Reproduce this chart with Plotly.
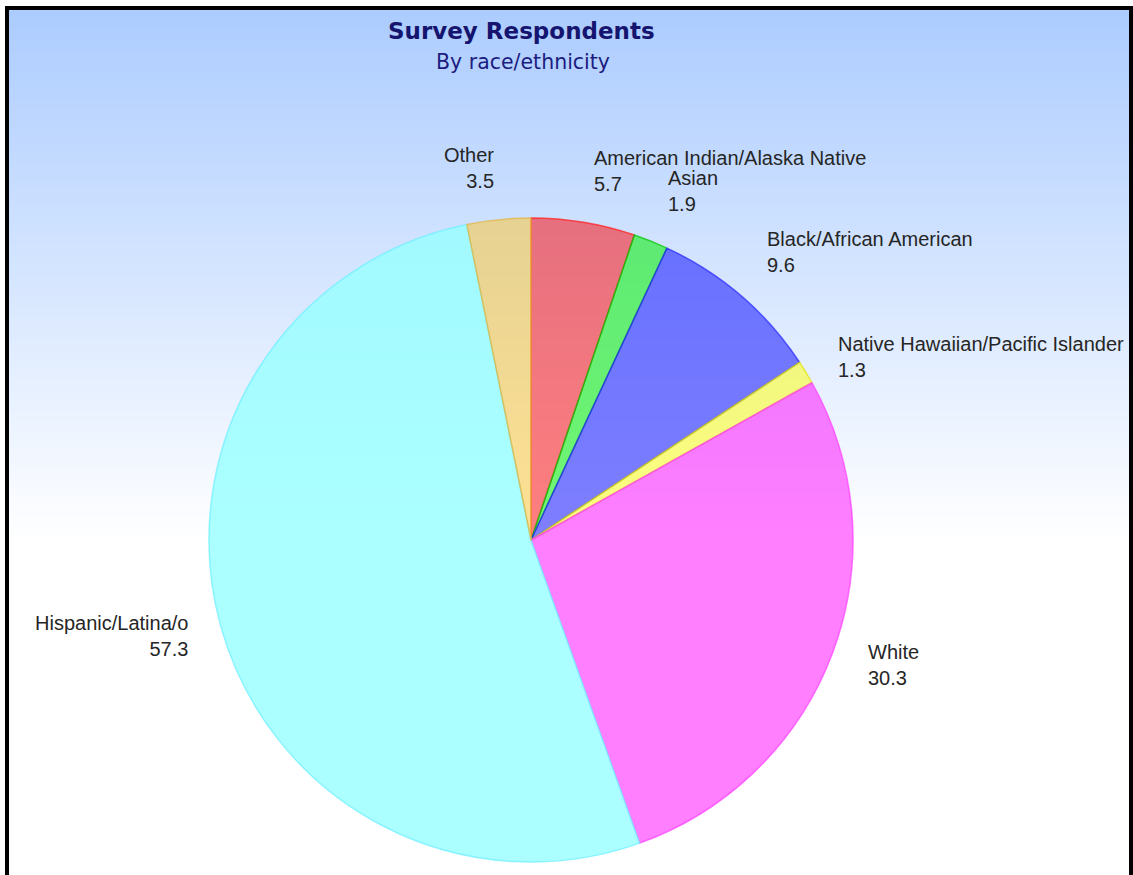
import math
import plotly.graph_objects as go

# ---------------- data ----------------
categories = [
    "American Indian/Alaska Native",
    "Asian",
    "Black/African American",
    "Native Hawaiian/Pacific Islander",
    "White",
    "Hispanic/Latina/o",
    "Other",
]
values = [5.7, 1.9, 9.6, 1.3, 30.3, 57.3, 3.5]
title_text = "Survey Respondents"
subtitle_text = "By race/ethnicity"

# ---------------- style ----------------
slice_colors = [
    "rgba(255,0,0,0.5)",
    "rgba(0,240,0,0.55)",
    "rgba(0,0,255,0.5)",
    "rgba(255,255,0,0.5)",
    "rgba(255,0,255,0.5)",
    "rgba(150,255,255,0.8)",
    "rgba(255,195,40,0.5)",
]
edge_colors = [
    "rgba(255,40,40,0.8)",
    "rgba(0,200,0,0.7)",
    "rgba(40,40,255,0.7)",
    "rgba(230,230,0,0.7)",
    "rgba(255,60,255,0.7)",
    "rgba(120,240,255,0.8)",
    "rgba(230,180,60,0.7)",
]

W, H = 1133, 875
# pie bounding square on the page: x 209..853, y 218..862
ML, MT = 209, 218
MR = W - 853
MB = H - 862
PW = W - ML - MR
PH = H - MT - MB


def px2x(px):  # page px -> paper
    return (px - ML) / PW


def py2y(py):
    return (H - MB - py) / PH


fig = go.Figure()
fig.add_trace(
    go.Pie(
        labels=categories,
        values=values,
        sort=False,
        direction="clockwise",
        rotation=0,
        textinfo="none",
        hoverinfo="label+value",
        marker=dict(colors=slice_colors, line=dict(color=edge_colors, width=1.5)),
        showlegend=False,
        domain=dict(x=[0, 1], y=[0, 1]),
    )
)

# ---------------- background gradient (shapes) ----------------
shapes = []
top_c = (172, 204, 255)
y0g, y1g = 10, 540
step = 3
for yy in range(y0g, y1g, step):
    t = (yy - y0g) / (y1g - y0g)
    c = tuple(round(top_c[i] + (255 - top_c[i]) * t) for i in range(3))
    shapes.append(
        dict(
            type="rect", xref="paper", yref="paper", layer="below",
            x0=px2x(9), x1=px2x(1129), y0=py2y(yy + step + 0.5), y1=py2y(yy),
            fillcolor="rgb(%d,%d,%d)" % c, line=dict(width=0),
        )
    )
# frame
for (x0, x1, y0, y1) in [(5, 9, 6, 875), (5, 1133, 6, 10), (1129, 1133, 6, 875)]:
    shapes.append(
        dict(
            type="rect", xref="paper", yref="paper", layer="above",
            x0=px2x(x0), x1=px2x(x1), y0=py2y(y1), y1=py2y(y0),
            fillcolor="black", line=dict(width=0),
        )
    )

# ---------------- labels ----------------
annotations = []
total = sum(values)
cum = 0.0
for cat, v in zip(categories, values):
    mid = cum + v / 2.0
    cum += v
    th = 2 * math.pi * mid / total
    s, c = math.sin(th), math.cos(th)
    x = 0.5 + 0.55 * s
    y = 0.5 + 0.55 * c
    right = s >= 0
    yshift = 20 if c > 0.6 else (-20 if c < -0.6 else -1)
    annotations.append(
        dict(
            x=x, y=y, xref="paper", yref="paper",
            text="%s<br>%s" % (cat, v),
            showarrow=False,
            xanchor="left" if right else "right",
            yanchor="middle",
            align="left" if right else "right",
            xshift=3 if right else 0,
            yshift=yshift,
            font=dict(family="Liberation Sans, Arial", size=20, color="#262626"),
        )
    )

annotations.append(
    dict(
        x=px2x(521), y=py2y(31), xref="paper", yref="paper",
        text="<b>%s</b>" % title_text, showarrow=False,
        xanchor="center", yanchor="middle",
        font=dict(family="DejaVu Sans", size=23, color="#151570"),
    )
)
annotations.append(
    dict(
        x=px2x(523), y=py2y(62), xref="paper", yref="paper",
        text=subtitle_text, showarrow=False,
        xanchor="center", yanchor="middle",
        font=dict(family="DejaVu Sans", size=20.5, color="#1c1c80"),
    )
)

fig.update_layout(
    width=W, height=H,
    margin=dict(l=ML, r=MR, t=MT, b=MB, pad=0),
    paper_bgcolor="white",
    plot_bgcolor="white",
    showlegend=False,
    shapes=shapes,
    annotations=annotations,
)

fig.write_html(
    "out.html",
    config={"displayModeBar": False},
    post_script="document.body.style.margin='0px'; document.body.style.overflow='hidden';",
)
